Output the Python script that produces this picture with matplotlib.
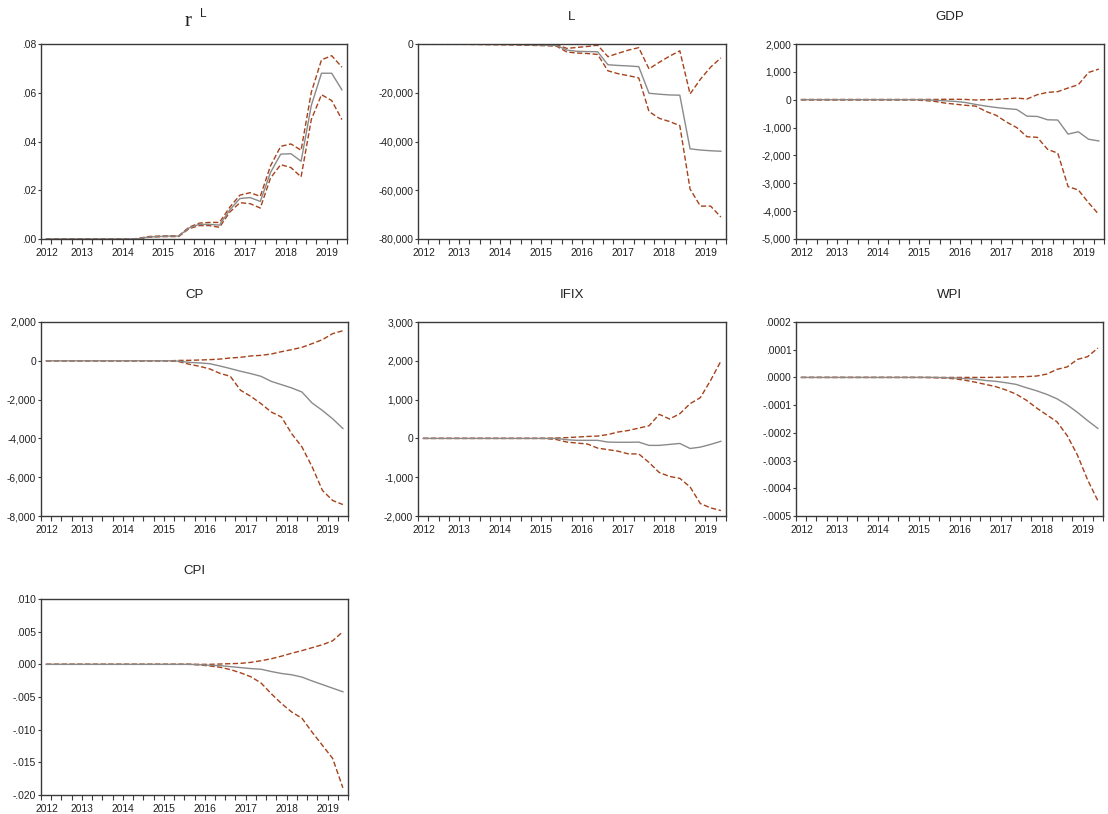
import numpy as np
import matplotlib
matplotlib.use('Agg')
import matplotlib.pyplot as plt

plt.rcParams['font.family'] = ['Liberation Sans', 'DejaVu Sans']

# quarterly horizon 2012Q3 .. 2019Q4 (30 obs)
years = ['2012', '2013', '2014', '2015', '2016', '2017', '2018', '2019']
n_obs = 30

rl_mean = [0, 0, 0, 0, 0, 0, 0, 0, 0, 0.0001, 0.0008, 0.0010, 0.0012, 0.0012, 0.0045,
           0.0060, 0.0060, 0.0057, 0.0119, 0.0166, 0.0170, 0.0154, 0.0273, 0.0348, 0.0350,
           0.0319, 0.0548, 0.0680, 0.0680, 0.0612]
rl_up = [0, 0, 0, 0, 0, 0, 0, 0, 0, 0.0002, 0.0010, 0.0012, 0.0013, 0.0013, 0.0048,
         0.0065, 0.0068, 0.0068, 0.0130, 0.0180, 0.0190, 0.0175, 0.0300, 0.0380, 0.0390,
         0.0364, 0.0602, 0.0735, 0.0752, 0.0705]
rl_lo = [0, 0, 0, 0, 0, 0, 0, 0, 0, 0.0000, 0.0007, 0.0009, 0.0010, 0.0010, 0.0042,
         0.0055, 0.0055, 0.0048, 0.0110, 0.0149, 0.0145, 0.0127, 0.0250, 0.0305, 0.0293,
         0.0255, 0.0490, 0.0592, 0.0568, 0.0490]

l_mean = [-100, -100, -100, -100, -100, -100, -150, -150, -200, -200, -300, -400, -500, -600,
          -2500, -3000, -3100, -3200, -8500, -8800, -9000, -9300, -20200, -20600, -20900,
          -21000, -43000, -43500, -43800, -44000]
l_up = [-50, -50, -50, -50, -50, -50, -80, -100, -120, -150, -200, -250, -300, -300,
        -1800, -1400, -1000, -500, -5200, -3800, -2500, -1500, -10200, -7500, -5000,
        -2800, -20500, -14500, -9500, -5700]
l_lo = [-150, -150, -150, -150, -150, -200, -250, -300, -350, -400, -500, -600, -700, -900,
        -3300, -3700, -3900, -4300, -11000, -12200, -13000, -13900, -27700, -30500, -31800,
        -33500, -59500, -66500, -66500, -71000]

gdp_mean = [0, 0, 0, 0, 0, 0, 0, 0, 0, 0, 0, 0, 0, -20, -40, -60, -100, -170, -230, -280,
            -320, -350, -590, -600, -720, -730, -1235, -1150, -1420, -1480]
gdp_up = [10, 10, 10, 10, 10, 10, 10, 10, 10, 10, 10, 10, 10, 10, 15, 15, 10, -10, 0, 10,
          35, 60, 25, 180, 264, 290, 420, 540, 980, 1100]
gdp_lo = [-10, -10, -10, -10, -10, -10, -10, -10, -10, -10, -10, -10, -30, -60, -120, -160,
          -200, -230, -420, -560, -800, -1000, -1330, -1350, -1780, -1920, -3120, -3240,
          -3700, -4120]

cp_mean = [0, 0, 0, 0, 0, 0, 0, 0, 0, 0, 0, 0, 0, -20, -80, -110, -150, -270, -400, -540,
           -660, -800, -1060, -1230, -1400, -1610, -2180, -2560, -2990, -3490]
cp_up = [0, 0, 0, 0, 0, 0, 0, 0, 0, 0, 0, 0, 0, 20, 25, 40, 60, 90, 145, 180, 250, 280,
         350, 470, 575, 695, 885, 1090, 1400, 1550]
cp_lo = [0, 0, 0, 0, 0, 0, 0, 0, 0, 0, 0, 0, 0, -45, -180, -285, -420, -650, -800, -1520,
         -1830, -2210, -2640, -2900, -3760, -4440, -5470, -6680, -7200, -7410]

ifix_mean = [0, 0, 0, 0, 0, 0, 0, 0, 0, 0, 0, 0, 0, 0, -35, -50, -50, -50, -95, -100, -100,
             -95, -180, -180, -155, -130, -260, -225, -155, -75]
ifix_up = [0, 0, 0, 0, 0, 0, 0, 0, 0, 0, 0, 0, 5, 10, 20, 35, 50, 60, 100, 165, 205, 265,
           325, 620, 500, 635, 895, 1050, 1495, 1990]
ifix_lo = [0, 0, 0, 0, 0, 0, 0, 0, 0, 0, 0, 0, -5, -30, -95, -120, -145, -250, -290, -330,
           -400, -400, -620, -880, -980, -1030, -1250, -1680, -1790, -1860]

# WPI and CPI in units of 1e-4 and 1e-3
wpi_mean = np.array([0, 0, 0, 0, 0, 0, 0, 0, 0, 0, 0, 0, 0, 0, -0.01, -0.02, -0.04, -0.06,
                     -0.11, -0.14, -0.19, -0.25, -0.37, -0.48, -0.61, -0.77, -0.99, -1.26,
                     -1.56, -1.84]) * 1e-4
wpi_up = np.array([0, 0, 0, 0, 0, 0, 0, 0, 0, 0, 0, 0, 0, 0, 0, 0, 0, 0, 0, 0.005, 0.01,
                   0.02, 0.03, 0.05, 0.12, 0.29, 0.38, 0.65, 0.75, 1.06]) * 1e-4
wpi_lo = np.array([0, 0, 0, 0, 0, 0, 0, 0, 0, 0, 0, 0, 0, -0.01, -0.02, -0.05, -0.10, -0.17,
                   -0.25, -0.33, -0.45, -0.60, -0.82, -1.10, -1.35, -1.60, -2.10, -2.80,
                   -3.70, -4.45]) * 1e-4

cpi_mean = np.array([0, 0, 0, 0, 0, 0, 0, 0, 0, 0, 0, 0, 0, 0, 0, -0.05, -0.15, -0.2, -0.35,
                     -0.5, -0.65, -0.75, -1.1, -1.4, -1.6, -1.95, -2.55, -3.1, -3.65,
                     -4.2]) * 1e-3
cpi_up = np.array([0, 0, 0, 0, 0, 0, 0, 0, 0, 0, 0, 0, 0, 0, 0, 0, 0, 0.05, 0.1, 0.15, 0.3,
                   0.55, 0.85, 1.25, 1.7, 2.1, 2.55, 3.0, 3.6, 5.0]) * 1e-3
cpi_lo = np.array([0, 0, 0, 0, 0, 0, 0, 0, 0, 0, 0, 0, 0, 0, 0, -0.1, -0.25, -0.45, -0.8,
                   -1.3, -1.9, -2.85, -4.5, -6.0, -7.3, -8.25, -10.4, -12.4, -14.4,
                   -18.9]) * 1e-3

rl_ticks = [0, 0.02, 0.04, 0.06, 0.08]
rl_labels = ['.00', '.02', '.04', '.06', '.08']
l_ticks = [-80000, -60000, -40000, -20000, 0]
l_labels = ['-80,000', '-60,000', '-40,000', '-20,000', '0']
gdp_ticks = [-5000, -4000, -3000, -2000, -1000, 0, 1000, 2000]
gdp_labels = ['-5,000', '-4,000', '-3,000', '-2,000', '-1,000', '0', '1,000', '2,000']
cp_ticks = [-8000, -6000, -4000, -2000, 0, 2000]
cp_labels = ['-8,000', '-6,000', '-4,000', '-2,000', '0', '2,000']
ifix_ticks = [-2000, -1000, 0, 1000, 2000, 3000]
ifix_labels = ['-2,000', '-1,000', '0', '1,000', '2,000', '3,000']
wpi_ticks = [-0.0005, -0.0004, -0.0003, -0.0002, -0.0001, 0, 0.0001, 0.0002]
wpi_labels = ['-.0005', '-.0004', '-.0003', '-.0002', '-.0001', '.0000', '.0001', '.0002']
cpi_ticks = [-0.020, -0.015, -0.010, -0.005, 0, 0.005, 0.010]
cpi_labels = ['-.020', '-.015', '-.010', '-.005', '.000', '.005', '.010']

W, H = 1108, 814
MEAN_COL = '#8a8a8a'
BAND_COL = '#a5421b'
FRAME_COL = '#3a3a3a'
TXT_COL = '#222222'

fig = plt.figure(figsize=(W / 100, H / 100), dpi=100)


def add_panel(left, top, right, bottom):
    return fig.add_axes([left / W, 1 - bottom / H, (right - left) / W, (bottom - top) / H])


def draw_irf(ax, mean, up, lo, ticks, labels, title=None):
    x = np.arange(n_obs) + 0.5
    ax.plot(x, up, color=BAND_COL, lw=1.0, dashes=(3.8, 1.8))
    ax.plot(x, lo, color=BAND_COL, lw=1.0, dashes=(3.8, 1.8))
    ax.plot(x, mean, color=MEAN_COL, lw=1.0)
    ax.set_xlim(0, n_obs)
    ax.set_ylim(ticks[0], ticks[-1])
    ax.set_yticks(ticks)
    ax.set_yticklabels(labels)

    # quarter boundaries, year boundaries get longer ticks
    ax.xaxis.remove_overlapping_locs = False
    ax.set_xticks(np.arange(n_obs + 1))
    ax.set_xticklabels([])
    for q, t in zip(range(n_obs + 1), ax.xaxis.get_major_ticks()):
        if (q - 2) % 4 == 0:
            t.tick1line.set_markersize(4.2)
        else:
            t.tick1line.set_markersize(2.4)
    # year labels centred in each year span, first year is half shown
    ax.set_xticks([0.6] + [4 + 4 * k for k in range(len(years) - 1)], minor=True)
    ax.set_xticklabels(years, minor=True)
    ax.tick_params(axis='x', which='minor', length=0, pad=6.2, labelsize=7.4,
                   labelcolor=TXT_COL)
    ax.tick_params(axis='x', which='major', direction='out', width=0.8, color=FRAME_COL)
    ax.tick_params(axis='y', direction='out', length=2.2, width=0.8, pad=1.2,
                   labelsize=7.4, color=FRAME_COL, labelcolor=TXT_COL)
    for s in ax.spines.values():
        s.set_color(FRAME_COL)
        s.set_linewidth(1.0)
    if title is not None:
        ax.text(0.5, 1 + 27.5 / 195, title, transform=ax.transAxes, ha='center',
                va='center', fontsize=9.5, color=TXT_COL)


ax1 = add_panel(41, 44, 347, 239)
draw_irf(ax1, rl_mean, rl_up, rl_lo, rl_ticks, rl_labels)
fig.text(188 / W, 1 - 21 / H, 'r', family=['Liberation Serif', 'DejaVu Serif'],
         fontsize=15, ha='center', va='center', color=TXT_COL)
fig.text(203 / W, 1 - 14 / H, 'L', fontsize=8.5, ha='center', va='center', color=TXT_COL)

ax2 = add_panel(418, 44, 726, 239)
draw_irf(ax2, l_mean, l_up, l_lo, l_ticks, l_labels, 'L')

ax3 = add_panel(796, 44, 1104, 239)
draw_irf(ax3, gdp_mean, gdp_up, gdp_lo, gdp_ticks, gdp_labels, 'GDP')

ax4 = add_panel(41, 322, 348, 516)
draw_irf(ax4, cp_mean, cp_up, cp_lo, cp_ticks, cp_labels, 'CP')

ax5 = add_panel(418, 322, 726, 516)
draw_irf(ax5, ifix_mean, ifix_up, ifix_lo, ifix_ticks, ifix_labels, 'IFIX')

ax6 = add_panel(796, 322, 1103, 516)
draw_irf(ax6, wpi_mean, wpi_up, wpi_lo, wpi_ticks, wpi_labels, 'WPI')

ax7 = add_panel(41, 599, 348, 795)
draw_irf(ax7, cpi_mean, cpi_up, cpi_lo, cpi_ticks, cpi_labels, 'CPI')

fig.savefig('out.png', dpi=100, facecolor='white')
